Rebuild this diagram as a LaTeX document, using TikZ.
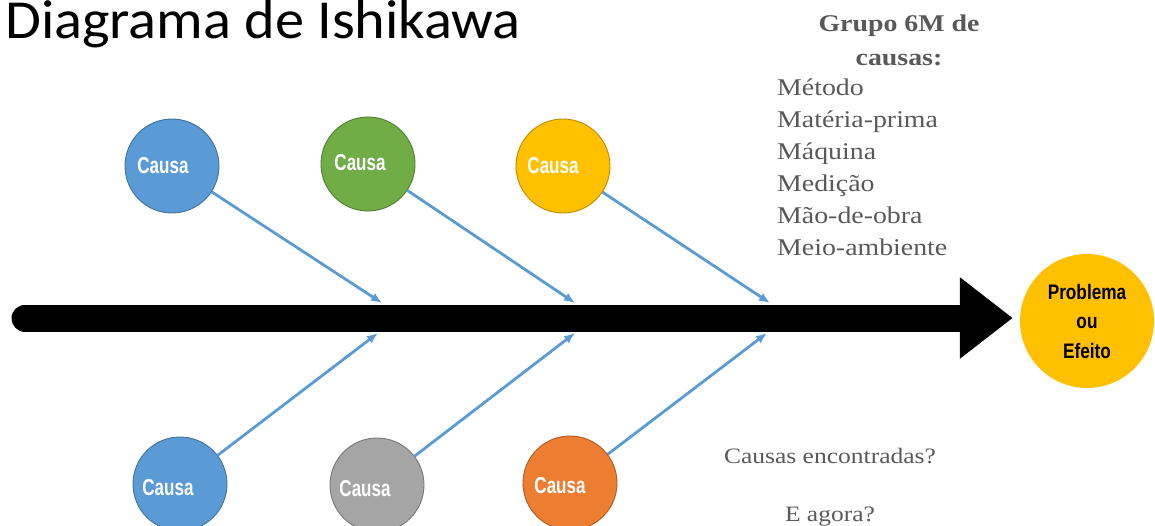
\documentclass[tikz,border=0pt]{standalone}
\usepackage{fontspec}
\usetikzlibrary{arrows.meta}
\setmainfont{Liberation Serif}
\newfontfamily\titlefont[FakeStretch=1.06]{Carlito}
\newfontfamily\notefont[FakeStretch=1.16]{Liberation Serif}
\newfontfamily\causefont[FakeStretch=0.74]{Liberation Sans Bold}
\newfontfamily\effectfont[FakeStretch=0.82]{Liberation Sans Bold}

\definecolor{cblue}{HTML}{5B9BD5}
\definecolor{cblueline}{HTML}{41719C}
\definecolor{cgreen}{HTML}{70AD47}
\definecolor{cgreenline}{HTML}{507E32}
\definecolor{cgold}{HTML}{FFC000}
\definecolor{cgoldline}{HTML}{BC8C00}
\definecolor{cgray}{HTML}{A5A5A5}
\definecolor{cgrayline}{HTML}{787878}
\definecolor{corange}{HTML}{ED7D31}
\definecolor{corangeline}{HTML}{AE5A21}
\definecolor{notegray}{HTML}{595959}

\tikzset{
  cause/.style n args={2}{circle, minimum size=94pt, inner sep=0pt,
    line width=0.9pt, fill=#1, draw=#2},
  causetext/.style={font=\causefont\fontsize{23}{28}\selectfont, text=white},
  branch/.style={draw=cblue, line width=2.8pt, -{Latex[length=11pt,width=9pt]}},
  spine/.style={line width=27pt, line cap=round, -{Triangle[length=53pt,width=78pt]}},
  note/.style={font=\notefont\fontsize{24}{32}\selectfont, text=notegray, inner sep=0pt},
}

\begin{document}
\begin{tikzpicture}[x=1pt,y=-1pt]
\useasboundingbox (0,0) rectangle (1155,526);

% title
\node[anchor=base west, inner sep=0pt, font=\titlefont\fontsize{55}{60}\selectfont]
  (title) at (5,39) {Diagrama de Ishikawa};

% list of the 6M groups
\node[note, anchor=base, font=\notefont\bfseries\fontsize{24}{32}\selectfont]
  (grp1) at (899,32) {Grupo 6M de};
\node[note, anchor=base, font=\notefont\bfseries\fontsize{24}{32}\selectfont]
  (grp2) at (899,66) {causas:};
\foreach \item [count=\i] in {Método,Matéria-prima,Máquina,Medição,Mão-de-obra,Meio-ambiente}
  \node[note, anchor=base west] (m\i) at (777,64+32*\i) {\item};

% questions
\node[note, anchor=base, font=\notefont\fontsize{22}{26}\selectfont]
  (q1) at (830,463) {Causas encontradas?};
\node[note, anchor=base, font=\notefont\fontsize{22}{26}\selectfont]
  (q2) at (830,521) {E agora?};

% effect
\node[circle, fill=cgold, minimum size=134pt, inner sep=0pt, align=center,
  font=\effectfont\fontsize{21}{29.5}\selectfont] (effect) at (1087,321)
  {Problema\\ou\\Efeito};

% spine
\coordinate (tail) at (25,318);
\draw[spine, shorten >=7pt] (tail) -- (effect.west |- tail);

% causes
\node[cause={cblue}{cblueline},
  label={[causetext, xshift=-9pt]center:Causa}] (c1) at (172,166) {};
\node[cause={cgreen}{cgreenline},
  label={[causetext, xshift=-8pt, yshift=1pt]center:Causa}] (c2) at (368,164) {};
\node[cause={cgold}{cgoldline},
  label={[causetext, xshift=-10pt]center:Causa}] (c3) at (563,166) {};
\node[cause={cblue}{cblueline},
  label={[causetext, xshift=-12pt, yshift=-4pt]center:Causa}] (c4) at (180,484) {};
\node[cause={cgray}{cgrayline},
  label={[causetext, xshift=-12pt, yshift=-4pt]center:Causa}] (c5) at (377,485) {};
\node[cause={corange}{corangeline},
  label={[causetext, xshift=-10pt, yshift=-3pt]center:Causa}] (c6) at (570,483) {};

% branch end points on the spine
\coordinate (t1) at (382,303);
\coordinate (t2) at (575,303);
\coordinate (t3) at (770,303);
\coordinate (t4) at (378,333);
\coordinate (t5) at (575,333);
\coordinate (t6) at (767,333);

\draw[branch] (c1) -- (t1);
\draw[branch] (c2) -- (t2);
\draw[branch] (c3) -- (t3);
\draw[branch] (c4) -- (t4);
\draw[branch] (c5) -- (t5);
\draw[branch] (c6) -- (t6);
\end{tikzpicture}
\end{document}
